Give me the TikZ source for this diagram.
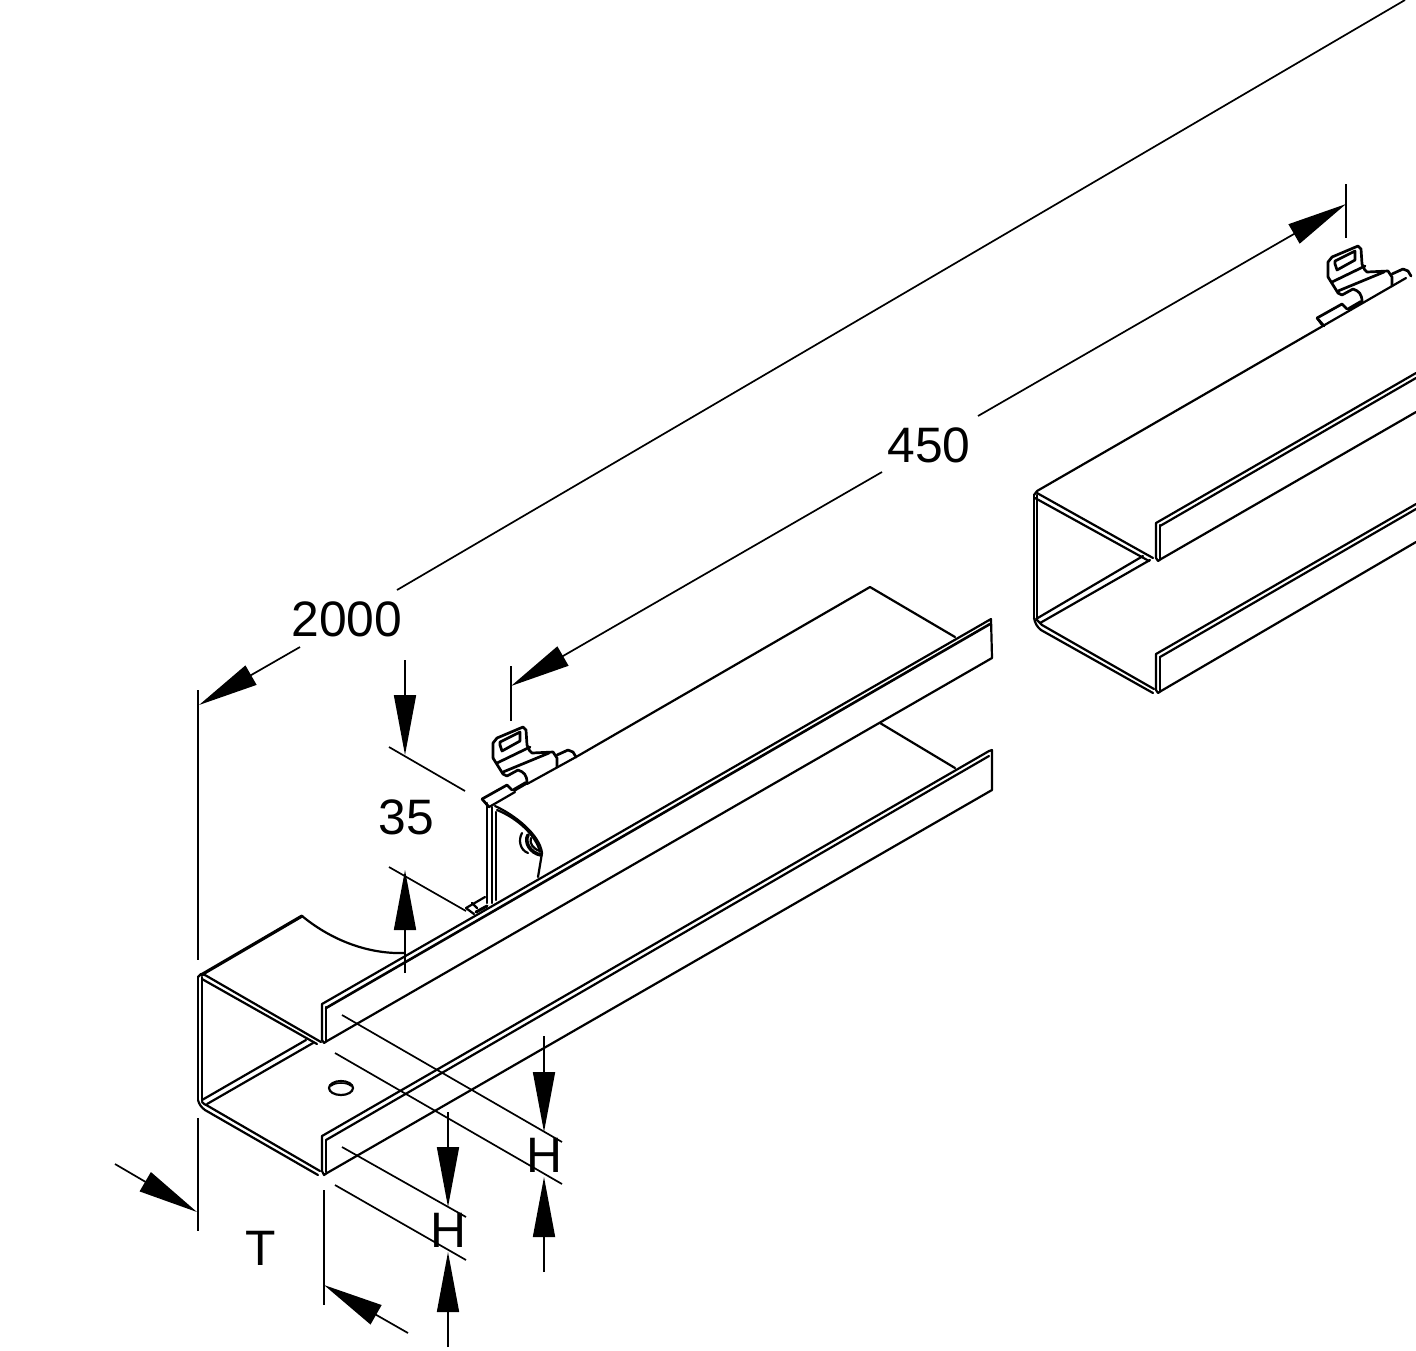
\documentclass[tikz,border=0pt]{standalone}
\usepackage{fontspec}
\setmainfont{Liberation Sans}
\usetikzlibrary{arrows.meta}
\tikzset{
  edge/.style={line width=1.1pt,line cap=round,line join=round},
  clipedge/.style={line width=1.35pt,line cap=round,line join=round},
  dim/.style={line width=0.85pt},
  dimarrow/.style={dim,-{Triangle[length=30pt,width=11pt]}},
  label/.style={inner sep=0pt,font=\fontsize{24.9pt}{26pt}\selectfont}
}
\newcommand{\clipshape}{%
  % plate outline
  \draw[clipedge] (493,758) -- (493,743) -- (497,738) -- (523,727) -- (526,730) -- (527,745)
     .. controls (529,750) and (530,752) .. (532,753) -- (553,752) -- (557,758) -- (557,767);
  \draw[clipedge] (493,758) -- (503,774) -- (507,776) -- (518,770)
     .. controls (524,772) and (527,775) .. (527,783);
  % slot in plate
  \draw[clipedge] (500,745) -- (500,742) -- (520,732) -- (520,741) -- (502,751) -- (500,745);
  \draw[clipedge] (497,763) -- (530,747);
  \draw[clipedge] (503,772) -- (549,753);
  % knuckle
  \draw[clipedge] (557,755) -- (568,750) -- (573,752) -- (576,757);
  % lower tab
  \draw[clipedge] (482,799) -- (507,785) -- (512,790);
  \draw[clipedge] (482,799) -- (489,807);
  \draw[edge,line width=1.9pt] (514,790) -- (526,783);
}
\begin{document}
\begin{tikzpicture}[x=0.5pt,y=-0.5pt]
\useasboundingbox (0,0) rectangle (1416,1350);

% ---- left duct: body
\draw[edge] (198,977) -- (198,1100);
\draw[edge] (202,977) -- (202,1101);
\draw[edge] (198,977) -- (201,974) -- (205,975);
\draw[edge,line width=1.6pt] (201,975) -- (302,916);
\draw[edge] (302,916) .. controls (335,943) and (372,954) .. (404,953);
% upper inner edge
\draw[edge] (205,975) -- (321,1042);
\draw[edge] (202,979) -- (317,1044);
% floor back edge
\draw[edge] (202,1100) -- (306,1040);
\draw[edge] (207,1104) -- (313,1043);
% lower outer edge
\draw[edge] (198,1100) .. controls (199,1104) and (201,1107) .. (205,1110) -- (318,1175);
\draw[edge] (202,1102) .. controls (203,1103) and (205,1105) .. (208,1106) -- (320,1171);
% upper lip
\draw[edge] (322,1004) -- (322,1040) -- (324,1043) -- (327,1041);
\draw[edge] (326,1007) -- (326,1041);
\draw[edge] (322,1004) -- (991,619) -- (992,658) -- (327,1041);
\draw[edge,line width=1.3pt] (326,1008) -- (990,624);
% lower lip
\draw[edge] (322,1136) -- (322,1171) -- (324,1175) -- (327,1173);
\draw[edge] (326,1140) -- (326,1172);
\draw[edge] (322,1136) -- (989,751) -- (992,750) -- (992,790) -- (327,1173);
\draw[edge] (326,1140) -- (989,756);
% hole
\draw[edge] (341,1088) ellipse [x radius=12,y radius=7];
\draw[edge,line width=0.8pt] (331,1086) .. controls (335,1082) and (347,1082) .. (351,1086);
% far edges seen behind the lips
\draw[edge] (955,637) -- (870,587) -- (576,757);
\draw[edge] (880,723) -- (955,768);

% ---- section piece behind the cut
\draw[edge] (487,803) -- (487,903);
\draw[edge] (492,807) -- (492,903);
\draw[edge] (496,812) -- (496,900);
\draw[edge] (489,807) -- (496,803);
\draw[edge] (496,803) -- (515,792);
\draw[edge] (527,784) -- (576,757);
\draw[edge] (495,806) .. controls (515,815) and (540,835) .. (542,853) -- (538,877);
\draw[edge] (497,810) .. controls (517,818) and (536,835) .. (540,852);
\draw[edge] (522,833) .. controls (518,840) and (520,850) .. (528,853);
\draw[edge,line width=1.8pt] (528,835) .. controls (524,842) and (530,853) .. (541,855);
\draw[edge] (531,838) .. controls (529,843) and (533,849) .. (540,851);
\draw[edge] (466,908) -- (485,897);
\draw[edge] (466,908) -- (474,914);
\draw[edge] (472,903) -- (477,908);
\draw[edge,line width=1.5pt] (476,912) -- (487,906);
\clipshape

% ---- right duct
\draw[edge] (1034,495) -- (1034,618);
\draw[edge] (1037,495) -- (1037,620);
\draw[edge] (1034,495) -- (1037,491) -- (1406,278);
\draw[edge] (1037,493) -- (1153,558);
\draw[edge] (1035,498) -- (1149,561);
\draw[edge] (1036,619) -- (1143,556);
\draw[edge] (1040,623) -- (1150,560);
\draw[edge] (1034,618) .. controls (1035,623) and (1037,627) .. (1041,630) -- (1153,693);
\draw[edge] (1037,620) -- (1042,625) -- (1154,689);
% upper lip
\draw[edge] (1156,523) -- (1156,558) -- (1158,561) -- (1161,559) -- (1416,412);
\draw[edge] (1160,525) -- (1160,559);
\draw[edge] (1156,523) -- (1416,373);
\draw[edge] (1160,526) -- (1416,378);
% lower lip
\draw[edge] (1156,654) -- (1156,690) -- (1158,693) -- (1161,691) -- (1416,542);
\draw[edge] (1160,657) -- (1160,691);
\draw[edge] (1156,654) -- (1416,504);
\draw[edge] (1160,657) -- (1416,509);
\begin{scope}[shift={(835,-481)}]
  \clipshape
\end{scope}
\draw[edge] (1317,318) -- (1322,325);

% ---- dimension 2000
\coordinate (d2a) at (397,590);
\coordinate (d2b) at (1405,0);
\coordinate (d2c) at (300,647);
\coordinate (d2t) at (199,705);
\draw[dim] (d2a) -- (d2b);
\draw[dimarrow] (d2c) -- (d2t);
\draw[dim] (198,690) -- (198,960);
\node[label] (n2000) at (347,619) {2000};

% ---- dimension 450
\coordinate (d4a) at (978,416);
\coordinate (d4t) at (1346,204);
\coordinate (d4c) at (882,472);
\coordinate (d4u) at (511,686);
\draw[dimarrow] (d4a) -- (d4t);
\draw[dimarrow] (d4c) -- (d4u);
\draw[dim] (1346,184) -- (1346,238);
\draw[dim] (511,666) -- (511,721);
\node[label] (n450) at (929,445) {450};

% ---- dimension 35
\draw[dimarrow] (405,660) -- (405,755);
\draw[dimarrow] (405,973) -- (405,870);
\draw[dim] (389,747) -- (465,791);
\draw[dim] (389,867) -- (466,911);
\node[label] (n35) at (406,817) {35};

% ---- dimension T
\draw[dimarrow] (115,1164) -- (197,1212);
\draw[dimarrow] (408,1333) -- (324,1285);
\draw[dim] (198,1118) -- (198,1231);
\draw[dim] (324,1190) -- (324,1305);
\node[label] (nT) at (261,1248) {T};

% ---- dimension H right
\draw[dim] (342,1015) -- (562,1142);
\draw[dim] (335,1053) -- (562,1184);
\draw[dimarrow] (544,1036) -- (544,1132);
\draw[dimarrow] (544,1272) -- (544,1177);
\node[label] (nH1) at (544,1155) {H};

% ---- dimension H left
\draw[dim] (342,1147) -- (466,1217);
\draw[dim] (335,1185) -- (466,1260);
\draw[dimarrow] (448,1112) -- (448,1207);
\draw[dimarrow] (448,1347) -- (448,1252);
\node[label] (nH2) at (448,1230) {H};
\end{tikzpicture}
\end{document}
